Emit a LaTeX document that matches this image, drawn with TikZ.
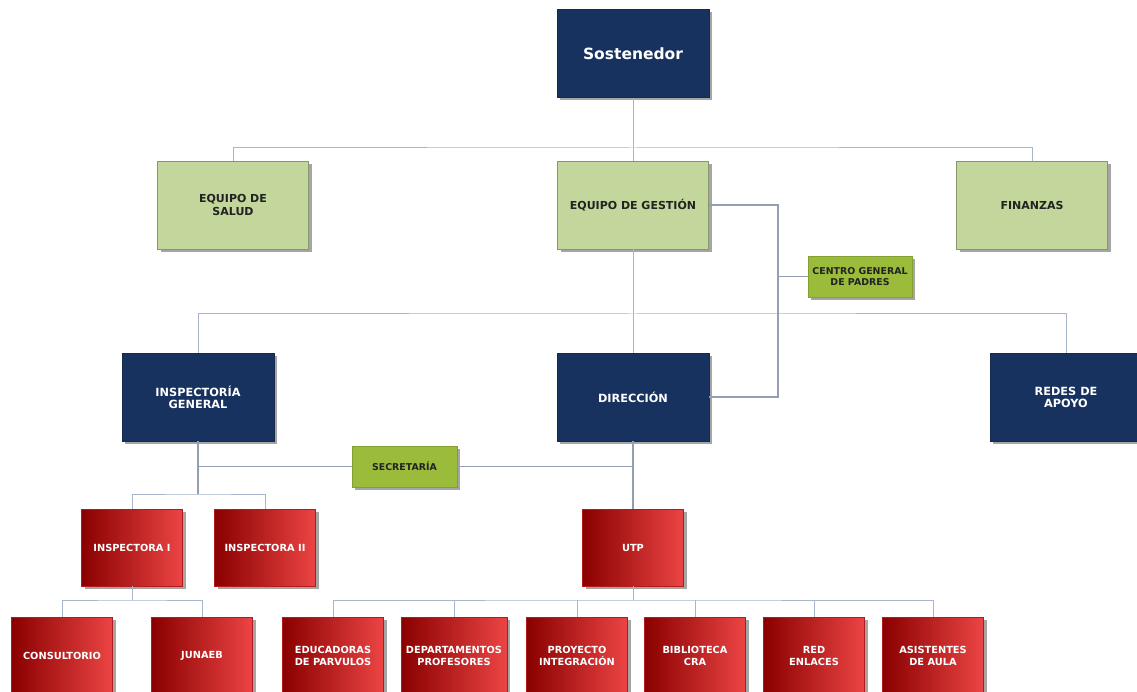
\documentclass[tikz,border=0pt]{standalone}
\usepackage{fontspec}
\setmainfont{DejaVu Sans}
\usetikzlibrary{shadows}
\definecolor{navy}{HTML}{17325E}
\definecolor{lgreen}{HTML}{C3D69B}
\definecolor{bgreen}{HTML}{9BBB3B}
\definecolor{dred}{HTML}{8A0000}
\definecolor{bred}{HTML}{EC4444}
\definecolor{conn}{HTML}{A7B6CA}
\definecolor{connd}{HTML}{929FB3}
\definecolor{gtext}{HTML}{222222}
\begin{document}
\begin{tikzpicture}[x=1pt,y=-1pt,
  box/.style={rectangle, inner sep=0pt, align=center,
    drop shadow={shadow xshift=3pt,shadow yshift=-3pt,opacity=0.5,fill=black!70}},
  navybox/.style={box, fill=navy, draw=navy!85!black, line width=0.6pt, text=white,
    font=\bfseries\fontsize{11.3}{11.8}\selectfont, minimum width=152pt, minimum height=88pt},
  greenbox/.style={box, fill=lgreen, draw=lgreen!70!black, line width=0.5pt, text=gtext,
    font=\bfseries\fontsize{11}{12.5}\selectfont, minimum width=151pt, minimum height=88pt},
  brightbox/.style={box, fill=bgreen, draw=bgreen!85!black, line width=0.4pt, text=gtext,
    font=\bfseries\fontsize{9.4}{11.3}\selectfont, minimum height=41pt},
  redbox/.style={box, left color=dred, right color=bred, draw=dred!60!bred, line width=0.3pt,
    text=white, font=\bfseries\fontsize{9.8}{12}\selectfont, minimum width=101pt, minimum height=77pt},
  line/.style={draw=conn, line width=1pt},
  dline/.style={draw=connd, line width=1.3pt}
]
\useasboundingbox[fill=white] (0,0) rectangle (1137,692);

% top
\node[navybox, font=\bfseries\fontsize{15.5}{18}\selectfont] (sost) at (633,53.5) {Sostenedor};
\node[greenbox] (salud) at (233,205) {EQUIPO DE\\SALUD};
\node[greenbox] (gest) at (633,205) {EQUIPO DE GESTIÓN};
\node[greenbox] (fin) at (1032,205) {FINANZAS};
\node[brightbox, minimum width=104pt] (centro) at (860,276.5) {CENTRO GENERAL\\DE PADRES};

% middle
\node[navybox] (insp) at (198,397) {INSPECTORÍA\\GENERAL};
\node[navybox] (dir) at (633,397) {DIRECCIÓN};
\node[navybox] (redes) at (1066,397) {REDES DE\\APOYO};
\node[brightbox, minimum width=105pt] (sec) at (404.5,466.5) {SECRETARÍA};

% red level 1
\node[redbox] (i1) at (132,547.5) {INSPECTORA I};
\node[redbox] (i2) at (265,547.5) {INSPECTORA II};
\node[redbox] (utp) at (633,547.5) {UTP};

% red level 2
\node[redbox] (cons) at (62,655.5) {CONSULTORIO};
\node[redbox] (jun) at (202,655.5) {JUNAEB};
\node[redbox] (edu) at (333,655.5) {EDUCADORAS\\DE PARVULOS};
\node[redbox, minimum width=106pt] (dep) at (454,655.5) {DEPARTAMENTOS\\PROFESORES};
\node[redbox] (pro) at (577,655.5) {PROYECTO\\INTEGRACIÓN};
\node[redbox] (bib) at (695,655.5) {BIBLIOTECA\\CRA};
\node[redbox] (red) at (814,655.5) {RED\\ENLACES};
\node[redbox] (asis) at (933,655.5) {ASISTENTES\\DE AULA};

% junction coordinates
\coordinate (h1) at (633,148);
\coordinate (h2) at (633,314);
\coordinate (v1) at (778,0);
\coordinate (j1) at (198,494);
\coordinate (j2) at (132,600);
\coordinate (j3) at (633,600);

% connectors
\path[line] (sost.south) -- (gest.north);
\path[line] (salud.north) |- (h1) -| (fin.north);
\path[line] (gest.south) -- (dir.north);
\path[line] (insp.north) |- (h2) -| (redes.north);
\path[dline] (gest.east) -- (gest.east -| v1) -- (dir.east -| v1) -- (dir.east);
\path[dline] (centro.west) -- (centro.west -| v1);
\path[dline] (insp.south) -- (j1);
\path[dline] (insp.south |- sec.west) -- (sec.west);
\path[dline] (sec.east) -- (sec.east -| dir.south);
\path[dline] (dir.south) -- (utp.north);
\path[line] (i1.north) |- (j1) -| (i2.north);
\path[line] (i1.south) -- (j2);
\path[line] (cons.north) |- (j2) -| (jun.north);
\path[line] (utp.south) -- (j3);
\path[line] (edu.north) |- (j3) -| (asis.north);
\foreach \n in {dep,pro,bib,red} \path[line] (\n.north) -- (\n.north |- j3);
\end{tikzpicture}
\end{document}
